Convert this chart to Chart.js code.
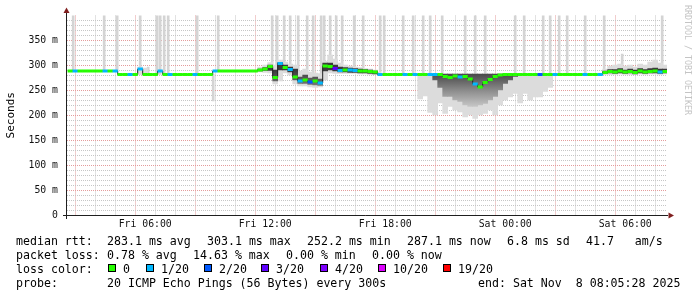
<!DOCTYPE html>
<html>
<head>
<meta charset="utf-8">
<script src="https://cdn.jsdelivr.net/npm/chart.js@4.4.1/dist/chart.umd.min.js"></script>
<style>
  body { margin: 0; background: #fff; }
  #wrap { position: relative; width: 697px; height: 297px; overflow: hidden; }
  #c { position: absolute; left: 0; top: 0; }
  .t { position: absolute; font: 11.6px "DejaVu Sans Mono", monospace; color: #000; white-space: pre; line-height: 14px; }
  .box { position: absolute; width: 8px; height: 8px; box-sizing: border-box; border: 1px solid #000; top: 264px; }
  #credit { position: absolute; left: 683px; top: 5px; writing-mode: vertical-rl; font: 8.3px "DejaVu Sans Mono", monospace; color: #c4c4c4; white-space: pre; }
</style>
</head>
<body>
<div id="wrap">
  <canvas id="c" width="697" height="297"></canvas>
  <div id="credit">RRDTOOL / TOBI OETIKER</div>

  <div class="t" style="left:16px;top:234px">median rtt:</div>
  <div class="t" style="left:107px;top:234px">283.1 ms avg</div>
  <div class="t" style="left:207px;top:234px">303.1 ms max</div>
  <div class="t" style="left:307px;top:234px">252.2 ms min</div>
  <div class="t" style="left:407px;top:234px">287.1 ms now</div>
  <div class="t" style="left:507px;top:234px">6.8 ms sd</div>
  <div class="t" style="left:586px;top:234px">41.7   am/s</div>

  <div class="t" style="left:16px;top:248px">packet loss:</div>
  <div class="t" style="left:107px;top:248px">0.78 % avg</div>
  <div class="t" style="left:193px;top:248px">14.63 % max</div>
  <div class="t" style="left:286px;top:248px">0.00 % min</div>
  <div class="t" style="left:372px;top:248px">0.00 % now</div>

  <div class="t" style="left:16px;top:262px">loss color:</div>
  <div id="lossLegend"></div>

  <div class="t" style="left:16px;top:276px">probe:</div>
  <div class="t" style="left:107px;top:276px">20 ICMP Echo Pings (56 Bytes) every 300s</div>
  <div class="t" style="left:478px;top:276px">end: Sat Nov  8 08:05:28 2025</div>
</div>

<script>
// time axis in hours since Fri 00:00, window is 30h ending Sat 08:05:28
const startHour = 2.0911;
const endHour = 32.0911;
const slotStart = 2.25;   // first 15 min slot
const slotStep = 0.25;

// median rtt per slot (ms)
const median = [
  288,288,288,288,288,288,288,288,288,288,
  281,281,281,281,292,281,281,281,288,281,
  281,281,281,281,281,281,281,281,281,288,
  288,288,288,288,288,288,288,288,290,292,
  297,275,303,295,291,276,268,270,266,268,
  264,298,297,293,289,290,290,289,288,288,
  287,286,281,281,281,281,281,281,281,281,
  281,281,281,281,281,277,275,278,276,277,
  272,262,256,265,271,277,280,281,281,281,
  281,281,281,281,281,281,281,281,281,281,
  281,281,281,281,281,281,281,285,287,286,
  288,286,287,285,288,286,287,288,286,287
];

// lost pings out of 20 per slot
const loss = [
  0,1,0,0,0,0,0,1,0,1, 0,0,1,0,1,0,0,0,1,0,
  1,0,0,0,0,1,0,0,0,1, 0,0,0,0,0,0,0,0,0,0,
  0,0,1,0,1,0,1,0,2,0, 1,0,0,3,1,0,1,1,0,0,
  0,0,1,0,0,0,0,1,0,1, 0,0,1,1,0,0,0,0,1,0,
  0,1,0,0,0,0,0,0,0,0, 0,0,0,0,2,0,0,1,0,0,
  0,0,0,1,0,0,1,0,0,0, 0,0,0,0,0,0,0,0,1,0
];

// smoke: full spread of the pings (light) and the dense middle (dark)
const smokeLo = [
  null,null,null,null,null,null,null,null,null,null,
  null,null,null,null,281,281,null,null,null,null,
  null,null,null,null,null,null,null,null,null,null,
  null,null,null,null,null,null,null,null,286,285,
  284,262,268,284,280,262,258,258,256,255,
  256,270,284,283,283,283,283,283,282,282,
  281,281,null,null,null,null,null,null,null,null,
  232,238,205,200,224,203,217,210,206,196,
  200,193,200,203,210,200,220,230,236,243,
  224,243,230,236,236,247,255,null,null,null,
  null,null,null,null,null,null,null,281,281,281,
  282,281,281,281,282,281,282,282,281,282
];
const smokeHi = [
  null,null,null,null,null,null,null,null,null,null,
  null,null,null,null,296,294,null,null,null,null,
  null,null,null,null,null,null,null,null,null,null,
  null,null,null,null,null,null,null,null,296,300,
  305,300,310,306,302,300,288,292,286,284,
  283,308,320,312,304,300,298,296,295,293,
  292,290,null,null,null,null,null,null,null,null,
  282,282,282,282,282,282,282,282,282,282,
  282,282,282,282,282,282,282,282,282,282,
  282,282,282,282,282,282,282,null,null,null,
  null,null,null,null,null,null,null,292,298,300,
  302,298,300,296,302,300,306,310,304,300
];
const coreLo = [
  null,null,null,null,null,null,null,null,null,null,
  null,null,null,null,null,null,null,null,null,null,
  null,null,null,null,null,null,null,null,null,null,
  null,null,null,null,null,null,null,null,288,289,
  289,268,290,290,286,270,263,263,261,260,
  259,288,290,288,286,286,285,285,284,284,
  283,282,null,null,null,null,null,null,null,null,
  null,null,null,270,255,237,237,230,227,220,
  217,217,220,223,230,237,250,263,270,277,
  null,null,null,null,null,null,null,null,null,null,
  null,null,null,null,null,null,null,283,284,283,
  284,283,284,282,284,283,284,284,283,284
];
const coreHi = [
  null,null,null,null,null,null,null,null,null,null,
  null,null,null,null,null,null,null,null,null,null,
  null,null,null,null,null,null,null,null,null,null,
  null,null,null,null,null,null,null,null,292,295,
  300,290,305,300,296,292,276,280,274,276,
  272,304,304,300,296,295,294,293,292,291,
  290,288,null,null,null,null,null,null,null,null,
  null,null,null,282,282,282,282,282,282,282,
  282,282,282,282,282,282,282,282,282,282,
  null,null,null,null,null,null,null,null,null,null,
  null,null,null,null,null,null,null,288,291,291,
  293,290,292,290,293,291,293,294,292,292
];

// single slow pings that shoot up (or down) from the median
const spikeHours = [2.4,3.95,4.6,5.75,6.15,6.6,6.75,6.95,7.15,8.6,9.4,9.65,
  12.35,12.6,12.95,13.25,13.65,14.1,14.4,14.8,14.95,15.25,15.55,15.85,16.45,16.9,17.75,17.95,
  18.9,19.4,19.9,20.25,20.85,22.0,22.5,23.0,24.5,24.95,25.9,26.25,26.7,27.1,28.0,28.95,29.85,31.85];
const spikeLo = [288,288,288,281,281,281,281,281,281,281,228,288,
  292,290,295,291,270,268,268,264,270,296,293,290,289,288,285,281,
  281,281,281,281,281,281,281,281,281,281,281,281,281,281,281,281,288,286];
const spikeHi = [400,400,400,400,296,400,400,400,400,400,282,400,
  400,400,400,400,400,400,400,400,400,400,400,400,400,400,400,400,
  400,400,400,400,400,400,400,400,400,400,400,400,400,400,400,400,322,400];

const yTickValues = [0,50,100,150,200,250,300,350];
const yTickLabels = ['0','50 m','100 m','150 m','200 m','250 m','300 m','350 m'];
const xTickHours = [6,12,18,24,30];
const xTickLabels = ['Fri 06:00','Fri 12:00','Fri 18:00','Sat 00:00','Sat 06:00'];

const lossSteps = ['0','1/20','2/20','3/20','4/20','10/20','19/20'];
const lossColors = ['#26ff00','#00b8ff','#0059ff','#5e00ff','#7e00ff','#dd00ff','#ff0000'];

function colorForLoss(l) {
  if (l <= 3) return lossColors[l];
  if (l < 10) return lossColors[4];
  if (l < 19) return lossColors[5];
  return lossColors[6];
}

// legend boxes
const boxLeft = [108,146,204,261,320,378,443];
const legend = document.getElementById('lossLegend');
lossSteps.forEach((s, i) => {
  const b = document.createElement('div');
  b.className = 'box';
  b.style.left = boxLeft[i] + 'px';
  b.style.background = lossColors[i];
  legend.appendChild(b);
  const t = document.createElement('div');
  t.className = 't';
  t.style.left = (boxLeft[i] + 15) + 'px';
  t.style.top = '262px';
  t.textContent = s;
  legend.appendChild(t);
});

const hours = median.map((_, i) => slotStart + i * slotStep);

const medianPts = hours.map((h, i) => ({ x: h, y: median[i] }));
const smokePts = hours.map((h, i) => ({ x: h, y: [smokeLo[i], smokeHi[i]] })).filter(p => p.y[0] != null);
const corePts = hours.map((h, i) => ({ x: h, y: [coreLo[i], coreHi[i]] })).filter(p => p.y[0] != null);
const spikePts = spikeHours.map((h, i) => ({ x: h, y: [spikeLo[i], spikeHi[i]] }));

const gridColor = '#c6c6c6';
const mgridColor = '#e49c9c';

function coreFill(ctx) {
  const chart = ctx.chart;
  if (!chart.chartArea) return '#777';
  const y = chart.scales.y;
  const g = chart.ctx.createLinearGradient(0, y.getPixelForValue(288), 0, y.getPixelForValue(212));
  g.addColorStop(0, '#3c3c3c');
  g.addColorStop(0.5, '#8a8a8a');
  g.addColorStop(1, '#cfcfcf');
  return g;
}

// axis lines and arrows like rrdtool
const rrdAxes = {
  id: 'rrdAxes',
  afterDraw(chart) {
    const { ctx, chartArea: a } = chart;
    ctx.save();
    ctx.strokeStyle = '#1f1f1f';
    ctx.lineWidth = 1;
    ctx.beginPath();
    ctx.moveTo(a.left - 4, a.bottom + 0.5);
    ctx.lineTo(a.right + 1, a.bottom + 0.5);
    ctx.moveTo(a.left - 0.5, a.bottom + 4);
    ctx.lineTo(a.left - 0.5, a.top - 3);
    ctx.stroke();
    ctx.fillStyle = '#801f1f';
    ctx.beginPath();
    ctx.moveTo(a.left - 0.5, a.top - 8);
    ctx.lineTo(a.left - 3.5, a.top - 2.5);
    ctx.lineTo(a.left + 2.5, a.top - 2.5);
    ctx.closePath();
    ctx.fill();
    ctx.beginPath();
    ctx.moveTo(a.right + 7, a.bottom + 0.5);
    ctx.lineTo(a.right + 1.5, a.bottom - 2.5);
    ctx.lineTo(a.right + 1.5, a.bottom + 3.5);
    ctx.closePath();
    ctx.fill();
    ctx.restore();
  }
};

const axisFont = { family: 'DejaVu Sans Mono', size: 9.8 };

new Chart(document.getElementById('c'), {
  type: 'bar',
  data: {
    datasets: [
      {
        type: 'line', label: 'median', data: medianPts, showLine: false,
        pointStyle: 'line', pointRadius: 2.6, pointBorderWidth: 3,
        pointBorderColor: loss.map(colorForLoss), order: 1
      },
      {
        type: 'line', label: 'steps', data: medianPts, stepped: 'middle',
        borderColor: '#222', borderWidth: 1, pointRadius: 0, order: 2
      },
      {
        label: 'core', data: corePts, backgroundColor: coreFill,
        barThickness: 5, grouped: false, order: 4
      },
      {
        label: 'smoke', data: smokePts, backgroundColor: '#dcdcdc',
        barThickness: 5, grouped: false, order: 5
      },
      {
        label: 'spikes', data: spikePts, backgroundColor: '#d4d4d4',
        barThickness: 2, grouped: false, order: 6
      }
    ]
  },
  options: {
    responsive: false,
    animation: false,
    events: [],
    layout: { padding: { left: 0, right: 30, top: 15.5, bottom: 0 } },
    plugins: { legend: { display: false }, tooltip: { enabled: false } },
    scales: {
      x: {
        type: 'linear', min: startHour, max: endHour, offset: false,
        afterFit: s => { s.height = 82; },
        afterBuildTicks: s => {
          const t = [];
          for (let h = Math.ceil(startHour); h <= Math.floor(endHour); h++) t.push({ value: h });
          s.ticks = t;
        },
        grid: {
          drawTicks: false,
          color: c => (c.tick && c.tick.value % 3 === 0) ? mgridColor : gridColor
        },
        border: { display: false, dash: [1, 1] },
        ticks: {
          autoSkip: false, maxRotation: 0, padding: 4, color: '#111', font: axisFont,
          callback: v => {
            const k = xTickHours.indexOf(v);
            return k >= 0 ? xTickLabels[k] : '';
          }
        }
      },
      y: {
        min: 0, max: 399,
        afterFit: s => { s.width = 67; },
        afterBuildTicks: s => {
          const t = [];
          for (let v = 0; v <= 390; v += 10) t.push({ value: v });
          s.ticks = t;
        },
        grid: {
          drawTicks: false,
          color: c => (c.tick && c.tick.value % 50 === 0) ? mgridColor : gridColor
        },
        border: { display: false, dash: [1, 1] },
        ticks: {
          autoSkip: false, padding: 9, color: '#111', font: axisFont,
          callback: v => {
            const k = yTickValues.indexOf(v);
            return k >= 0 ? yTickLabels[k] : '';
          }
        },
        title: {
          display: true, text: 'Seconds', color: '#000',
          font: { family: 'DejaVu Sans Mono', size: 11 },
          padding: { top: 4.4, bottom: 0 }
        }
      }
    }
  },
  plugins: [rrdAxes]
});
</script>
</body>
</html>
